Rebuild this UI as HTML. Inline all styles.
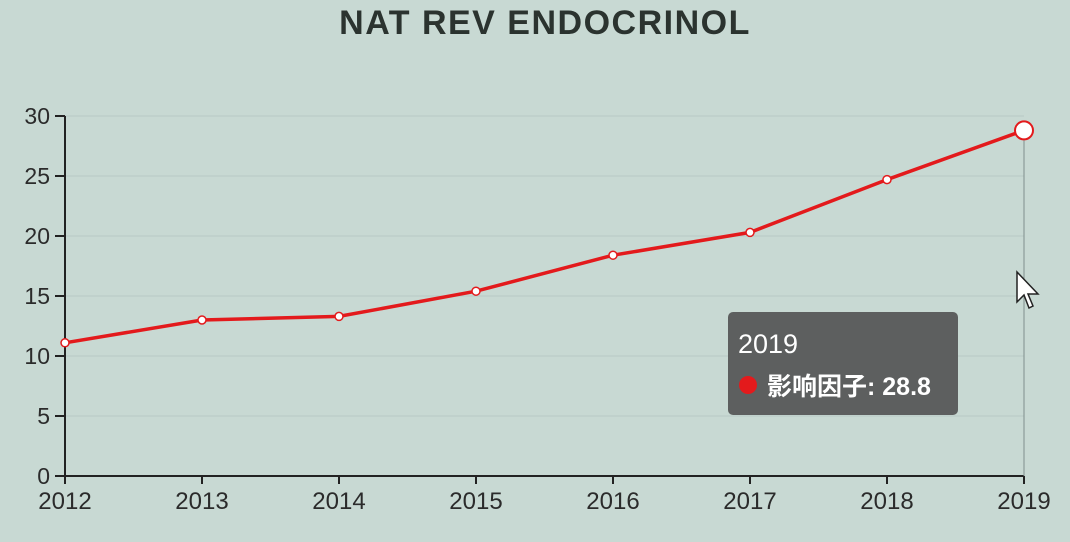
<!DOCTYPE html>
<html><head><meta charset="utf-8"><style>
body{margin:0;background:#c8d9d3;}
svg{display:block;font-family:"Liberation Sans","Noto Sans CJK SC",sans-serif;}
</style></head><body>
<svg width="1070" height="542" viewBox="0 0 1070 542">
<rect width="1070" height="542" fill="#c8d9d3"/>
<text x="545" y="34" text-anchor="middle" font-size="34" font-weight="bold" letter-spacing="1.5" fill="#2b332f">NAT REV ENDOCRINOL</text>
<g id="grid"></g><g id="axes"></g><g id="series"></g>
<g>
<rect x="728" y="312" width="230" height="103" rx="5" fill="#5d5f5f"/>
<text x="738" y="353" font-size="27" fill="#fff" id="tt-title">2019</text>
<circle cx="748" cy="385" r="9" fill="#e31a1c"/>
<text x="767" y="395" font-size="25" font-weight="bold" fill="#fff" id="tt-val">影响因子: 28.8</text>
</g>
<path d="M1017 272 L1017 302 L1024 295 L1029 308 L1033 306 L1028 294 L1038 294 Z" fill="#fff" stroke="#222" stroke-width="1.5"/>
</svg>
<script>
const years=["2012","2013","2014","2015","2016","2017","2018","2019"];
const values=[11.1,13.0,13.3,15.4,18.4,20.3,24.7,28.8];
const yTicks=[0,5,10,15,20,25,30];
const NS="http://www.w3.org/2000/svg";
const x0=65,x1=1024,yb=476,yt=116,ymax=30;
const X=i=>x0+(x1-x0)*i/(years.length-1);
const Y=v=>yb-(yb-yt)*v/ymax;
function mk(t,a,p){const e=document.createElementNS(NS,t);for(const k in a)e.setAttribute(k,a[k]);p.appendChild(e);return e;}
const g=document.getElementById('grid'),ax=document.getElementById('axes'),s=document.getElementById('series');
yTicks.forEach(v=>{
 if(v>0){const l=mk('line',{x1:x0,x2:x1,y1:Y(v),y2:Y(v),stroke:'#b8c9c4','stroke-width':1},g);
 
 }
 const t=mk('line',{x1:x0-10,x2:x0,y1:Y(v),y2:Y(v),stroke:'#222','stroke-width':2},ax);
 
 
 const tx=mk('text',{x:x0-15,y:Y(v)+8,'text-anchor':'end','font-size':23,fill:'#2b2b2b'},ax);
 tx.textContent=v;
 
 
});
const ya=mk('line',{x1:x0,x2:x0,y1:yt,y2:yb,stroke:'#222','stroke-width':2},ax);


const xa=mk('line',{x1:x0,x2:x1,y1:yb,y2:yb,stroke:'#222','stroke-width':2},ax);


years.forEach((y,i)=>{
 const t=mk('line',{x1:X(i),x2:X(i),y1:yb,y2:yb+8,stroke:'#222','stroke-width':2},ax);
 
 
 const tx=mk('text',{x:X(i),y:509,'text-anchor':'middle','font-size':24,fill:'#2b2b2b'},ax);
 tx.textContent=y;
 
 
});
const last=years.length-1;
const ptr=mk('line',{x1:X(last),x2:X(last),y1:Y(values[last]),y2:yb,stroke:'#7f8f8c','stroke-width':1},s);


const pl=mk('polyline',{points:values.map((v,i)=>X(i)+','+Y(v)).join(' '),fill:'none',stroke:'#e31a1c','stroke-width':3.5},s);


values.forEach((v,i)=>{
 const c=mk('circle',{cx:X(i),cy:Y(v),r:i===last?9:4,fill:'#fff',stroke:'#e31a1c','stroke-width':i===last?2:1.5},s);
 
 
});
document.getElementById('tt-title').textContent=years[last];
document.getElementById('tt-val').textContent='影响因子: '+values[last];
</script>
</body></html>
